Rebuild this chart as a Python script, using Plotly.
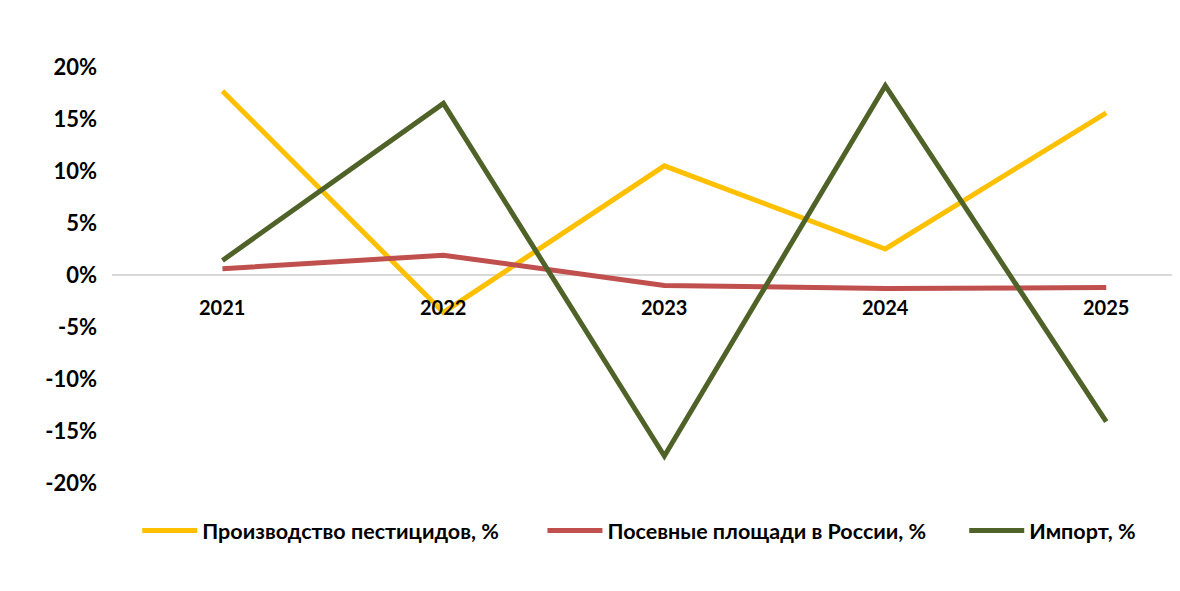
import plotly.graph_objects as go

years = ["2021", "2022", "2023", "2024", "2025"]
pesticides = [17.7, -3.6, 10.5, 2.5, 15.6]
sown_area = [0.6, 1.9, -1.0, -1.3, -1.2]
imports = [1.4, 16.5, -17.4, 18.2, -14.1]
y_ticks = [20, 15, 10, 5, 0, -5, -10, -15, -20]
series_names = ["Производство пестицидов, %", "Посевные площади в России, %", "Импорт, %"]
series_colors = ["#FFC000", "#C0504D", "#4F6228"]
legend_pad = [7, 6, 0]

FONT = "Lato"
x_idx = list(range(len(years)))

fig = go.Figure()
for name, vals, col, pad in zip(series_names, [pesticides, sown_area, imports], series_colors, legend_pad):
    fig.add_trace(go.Scatter(x=x_idx, y=vals, mode="lines", name=f"<b>{name}</b>" + "&nbsp;" * pad,
                             line=dict(color=col, width=5)))

for i, yr in enumerate(years):
    fig.add_annotation(x=i, y=0, xref="x", yref="y", text=f"<b>{yr}</b>", showarrow=False,
                       yshift=-32, font=dict(family=FONT, size=20, color="#000000"))

fig.update_layout(
    width=1180, height=591,
    paper_bgcolor="white", plot_bgcolor="white",
    margin=dict(l=104, r=0, t=59, b=116, autoexpand=False),
    font=dict(family=FONT, size=21.5, color="#000000"),
    xaxis=dict(range=[-0.5, 4.37], showgrid=False, showticklabels=False, zeroline=False,
               showline=False, ticks=""),
    yaxis=dict(range=[-20, 20], tickvals=y_ticks, ticktext=[f"<b>{v}%</b>" for v in y_ticks],
               showgrid=False, zeroline=True, zerolinecolor="#D9D9D9", zerolinewidth=1.5,
               showline=False, ticks="", ticklabelstandoff=14,
               tickfont=dict(family=FONT, size=22, color="#000000")),
    legend=dict(orientation="h", x=0.49, xanchor="center", y=-0.065, yanchor="top",
                font=dict(family=FONT, size=21.5, color="#000000"), itemwidth=55,
                traceorder="normal"),
    showlegend=True,
)

fig.write_html("out.html")
